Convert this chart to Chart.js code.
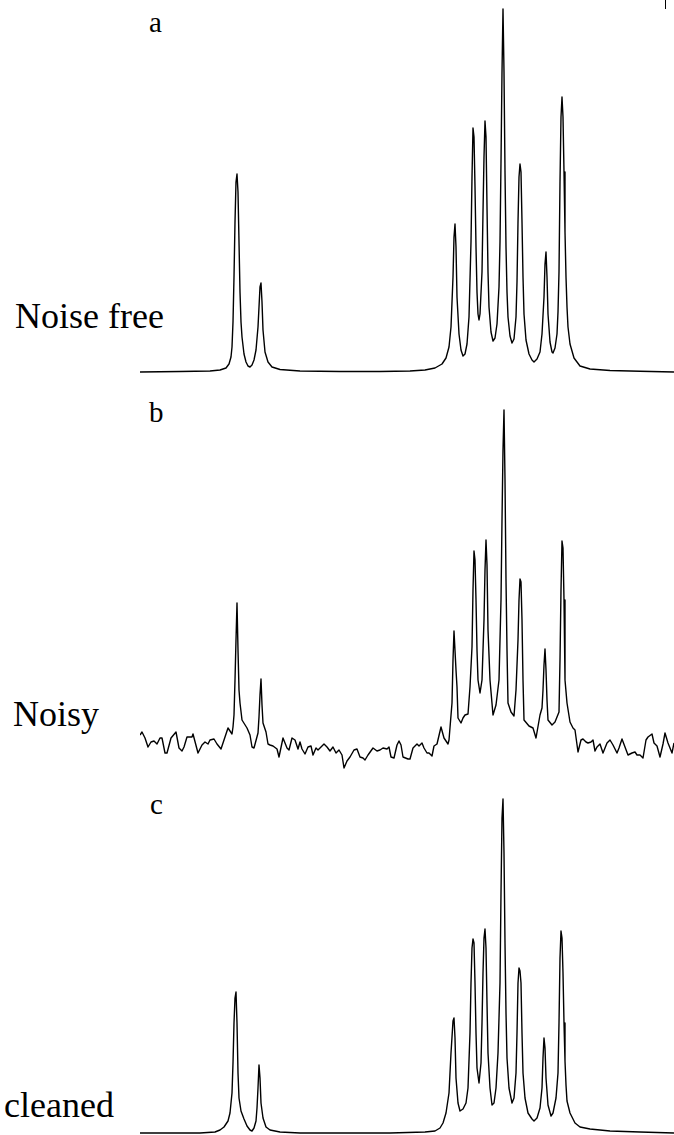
<!DOCTYPE html>
<html>
<head>
<meta charset="utf-8">
<script src="https://cdn.jsdelivr.net/npm/chart.js@4.4.1/dist/chart.umd.min.js"></script>
<style>
  body { margin: 0; background: #fff; }
  #wrap { position: relative; width: 674px; height: 1135px; overflow: hidden; }
  canvas { position: absolute; }
  .lbl { position: absolute; font-family: 'Times New Roman', Times, 'Liberation Serif', 'Noto Serif', 'DejaVu Serif', serif; color: #000; line-height: 1; white-space: nowrap; }
</style>
</head>
<body>
<div id="wrap">
  <div class="lbl" style="left:149px;top:8px;font-size:29px">a</div>
  <div class="lbl" style="left:15px;top:298px;font-size:36px">Noise free</div>
  <div class="lbl" style="left:149px;top:398px;font-size:29px">b</div>
  <div class="lbl" style="left:13px;top:696px;font-size:36px">Noisy</div>
  <div class="lbl" style="left:150px;top:790px;font-size:29px">c</div>
  <div class="lbl" style="left:4px;top:1087px;font-size:36px">cleaned</div>
  <div style="position:absolute;left:665px;top:0;width:1px;height:9px;background:#000"></div>
  <canvas id="chartA" width="534" height="380" style="left:140px;top:0"></canvas>
  <canvas id="chartB" width="534" height="390" style="left:140px;top:380px"></canvas>
  <canvas id="chartC" width="534" height="365" style="left:140px;top:770px"></canvas>
</div>
<script>
// spectrum a: noise free (channel, intensity)
const chA = [0,40,70,80,86,89,91,92,93,94,95,96,97,98,99,100,101,102,104,106,108,110,112,114,116,118,119,120,121,122,123,125,128,132,140,160,200,240,270,285,295,302,306,309,311,313,314,315,316,317,319,321,323,325,327,329,331,332,333,334,335,336,337,338,339,340,342,343,344,345,346,347,348,349,351,353,355,357,359,360,361,362,363,364,365,366,367,368,370,372,374,376,377,378,379,380,381,382,383,384,386,389,392,394,397,400,402,404,405,406,407,408,410,412,413,415,417,418,419,420,421,422,423,424,425,426,427,428,430,434,440,450,470,500,534];
const intA = [0,0.5,1,2,4,8,15,25,50,95,150,190,198,180,130,80,50,35,18,10,6,5,7,12,22,45,65,85,89,70,42,20,10,5,2.5,1,0.5,0.5,1,2,4,8,14,25,45,95,135,148,125,75,38,22,16,18,28,55,130,195,244,235,185,125,80,58,52,58,100,160,215,251,235,165,100,65,40,31,34,48,85,130,210,300,363,300,200,125,80,55,36,29,33,55,90,150,195,208,200,150,95,58,32,18,12,10,13,20,38,75,108,120,95,58,30,20,19,24,38,60,100,190,255,275,255,200,140,95,65,45,28,14,6,3,1.5,0.8,0];

// spectrum b: noisy
const chB = [0,2,5,8,11,14,17,20,22,25,27,31,36,39,42,44,47,52,53,58,62,65,68,70,74,77,81,85,88,92,93,94,95,96,97,98,99,100,102,107,110,112,114,118,119,120,121,122,123,126,128,130,133,137,139,143,147,149,152,155,158,160,162,165,168,171,173,176,178,181,184,187,190,193,196,199,202,204,207,210,214,217,220,223,225,228,233,237,240,243,247,249,251,254,257,259,261,263,268,270,273,277,279,282,284,287,289,292,294,297,301,304,308,309,312,313,314,316,317,318,321,323,325,328,330,332,333,334,335,336,337,338,340,342,344,345,346,347,348,350,353,356,359,361,362,363,364,365,366,367,368,371,374,376,378,379,380,381,382,383,384,389,393,396,400,402,403,404,405,406,407,408,412,415,419,420,421,422,423,424,425,427,430,433,435,438,441,443,446,448,451,453,455,457,460,463,467,470,473,477,479,482,485,488,492,495,497,500,503,506,508,512,514,517,520,523,525,528,532,534];
const intB = [10,13,7,-2,3,4,1,7,7,-8,-8,7,13,-3,-6,-2,8,8,11,-8,0,3,1,5,6,1,-4,8,17,11,18,30,65,105,142,95,55,42,25,17,10,-2,-3,12,28,50,66,40,22,13,1,0,-1,-4,-12,7,-3,-5,7,5,-4,3,-4,-9,-2,-1,-10,-3,-5,-2,1,-2,-6,-2,-8,-5,-10,-23,-16,-12,-5,-4,-12,-13,-15,-10,-3,-6,-5,-3,-4,-2,-12,-13,0,4,0,-12,-14,-14,-3,1,-1,2,-3,-8,-8,-11,-1,1,18,7,1,5,42,85,114,75,58,27,22,27,30,31,58,98,155,194,185,145,95,65,52,65,125,175,205,180,115,65,30,40,65,145,225,295,335,265,165,95,42,33,29,55,105,145,166,163,125,65,25,19,17,7,30,37,55,80,96,75,45,25,20,23,33,85,155,204,197,145,65,42,23,17,15,-7,5,6,3,2,3,5,-6,-2,1,-8,2,5,0,-8,-3,6,-2,-10,-8,-7,-10,-10,-13,5,8,11,2,-1,-12,1,12,2,-8,2];

// spectrum c: cleaned
const chC = [0,60,75,80,84,88,90,92,93,94,95,96,97,98,99,101,104,107,110,112,114,116,117,118,119,120,121,123,126,130,140,160,250,285,295,300,303,306,309,311,313,314,315,316,318,320,323,326,328,330,331,332,333,334,335,336,337,339,341,342,343,344,345,346,347,348,350,352,354,356,358,360,361,362,363,364,365,366,367,369,372,374,376,377,378,379,380,381,382,383,385,388,392,394,397,400,402,403,404,405,406,408,411,413,416,418,419,420,421,422,423,424,425,426,427,430,435,440,450,470,500,534];
const intC = [0,0,1,3,6,12,20,40,70,110,135,141,110,60,35,22,14,7,3,2,5,12,25,45,68,55,30,15,6,3,1,0,0,1,2,5,10,20,40,80,112,115,95,55,30,22,24,30,45,100,150,185,194,190,150,100,65,50,70,110,160,195,204,185,130,80,45,28,30,45,80,150,240,315,334,280,190,120,75,45,30,35,60,100,150,165,162,150,100,60,35,20,14,12,15,25,45,75,95,85,55,28,17,20,35,60,110,175,202,195,160,110,72,48,32,20,10,6,4,2,1,0];

function makeChart(id, ch, inten, yMin, yMax) {
  const pts = ch.map((x, i) => ({ x: x, y: inten[i] }));
  return new Chart(document.getElementById(id), {
    type: 'line',
    data: {
      datasets: [{
        data: pts,
        borderColor: '#000',
        borderWidth: 1.4,
        borderJoinStyle: 'round',
        pointRadius: 0,
        tension: 0,
        fill: false,
        clip: 3
      }]
    },
    options: {
      responsive: false,
      animation: false,
      devicePixelRatio: 1,
      layout: { padding: 0 },
      plugins: { legend: { display: false }, tooltip: { enabled: false } },
      scales: {
        x: { type: 'linear', min: 0, max: 534, display: false },
        y: { min: yMin, max: yMax, display: false }
      }
    }
  });
}

makeChart('chartA', chA, intA, -8, 372);
makeChart('chartB', chB, intB, -25, 365);
makeChart('chartC', chC, intC, -2, 363);
</script>
</body>
</html>
